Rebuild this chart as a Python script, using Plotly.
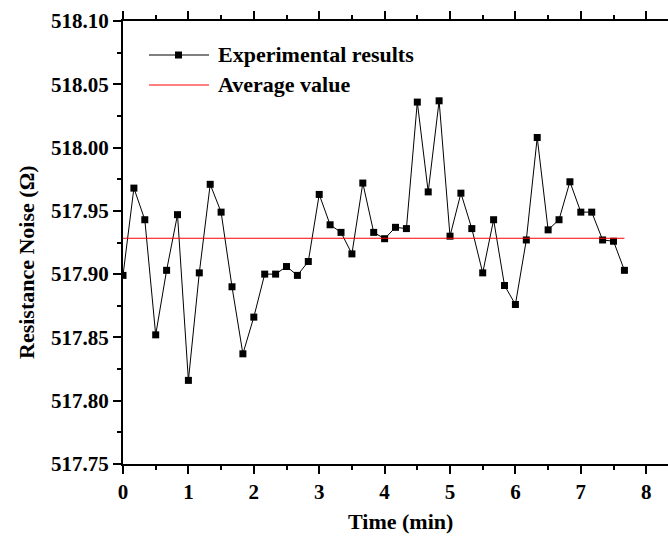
import plotly.graph_objects as go

# Sampling times (seconds) and measured resistance (ohm)
time_s = [0, 10, 20, 30, 40, 50, 60, 70, 80, 90,
          100, 110, 120, 130, 140, 150, 160, 170, 180, 190,
          200, 210, 220, 230, 240, 250, 260, 270, 280, 290,
          300, 310, 320, 330, 340, 350, 360, 370, 380, 390,
          400, 410, 420, 430, 440, 450, 460]
resistance = [517.899, 517.968, 517.943, 517.852, 517.903, 517.947, 517.816, 517.901, 517.971, 517.949,
              517.890, 517.837, 517.866, 517.900, 517.900, 517.906, 517.899, 517.910, 517.963, 517.939,
              517.933, 517.916, 517.972, 517.933, 517.928, 517.937, 517.936, 518.036, 517.965, 518.037,
              517.930, 517.964, 517.936, 517.901, 517.943, 517.891, 517.876, 517.927, 518.008, 517.935,
              517.943, 517.973, 517.949, 517.949, 517.927, 517.926, 517.903]

legend_names = ["Experimental results", "Average value"]
x_title = "Time (min)"
y_title = "Resistance Noise (\u03a9)"

time_min = [t / 60 for t in time_s]
average = sum(resistance) / len(resistance)

FONT = "Liberation Serif, Times New Roman, serif"
W, H = 668, 539
ML, MT, MB, MR = 123, 21, 75, 0
PW, PH = W - ML - MR, H - MT - MB

fig = go.Figure()
fig.add_trace(go.Scatter(
    x=time_min, y=resistance, mode="lines+markers",
    line=dict(color="black", width=1),
    marker=dict(symbol="square", size=7, color="black"),
    showlegend=False,
))
fig.add_trace(go.Scatter(
    x=[time_min[0], time_min[-1]], y=[average, average], mode="lines",
    line=dict(color="#ff0000", width=1),
    showlegend=False,
))

axis_common = dict(
    showline=True, linecolor="black", linewidth=2,
    ticks="outside", ticklen=8, tickwidth=2, tickcolor="black",
    showgrid=False, zeroline=False,
    tickfont=dict(family=FONT, size=21, color="black", weight="bold"),
)

fig.update_xaxes(
    range=[0, 8.333], dtick=1, tick0=0, mirror="ticks",
    minor=dict(ticks="outside", ticklen=4, tickwidth=2, dtick=0.5, tickcolor="black", showgrid=False),
    **axis_common,
)
fig.update_yaxes(
    range=[517.7499, 518.1001], dtick=0.05, tick0=517.75, tickformat=".2f",
    minor=dict(ticks="outside", ticklen=4, tickwidth=2, dtick=0.025, tickcolor="black", showgrid=False),
    **axis_common,
)


def px_x(p):
    return (p - ML) / PW


def px_y(p):
    return (H - MB - p) / PH


title_font = dict(family=FONT, size=22, color="black", weight="bold")
legend_font = dict(family=FONT, size=22, color="black", weight="bold")

annotations = [
    dict(text=x_title, x=px_x(400), y=px_y(521), xref="paper", yref="paper",
         showarrow=False, font=title_font, xanchor="center", yanchor="middle"),
    dict(text=y_title, x=px_x(26), y=px_y(262), xref="paper", yref="paper",
         showarrow=False, font=title_font, textangle=-90, xanchor="center", yanchor="middle"),
]
shapes = []

# Hand-drawn legend block
leg_rows = [55, 85]
for i, name in enumerate(legend_names):
    yy = px_y(leg_rows[i])
    color = "black" if i == 0 else "#ff0000"
    shapes.append(dict(type="line", xref="paper", yref="paper",
                       x0=px_x(149), x1=px_x(209), y0=yy, y1=yy,
                       line=dict(color="#555555" if i == 0 else color, width=1.5 if i == 0 else 1)))
    if i == 0:
        shapes.append(dict(type="rect", xref="paper", yref="paper",
                           x0=px_x(175), x1=px_x(182), y0=px_y(58.5), y1=px_y(51.5),
                           fillcolor="black", line=dict(width=0)))
    annotations.append(dict(text=name, x=px_x(216), y=yy, xref="paper", yref="paper",
                            showarrow=False, font=legend_font, xanchor="left", yanchor="middle"))

fig.update_layout(
    width=W, height=H,
    margin=dict(l=ML, r=MR, t=MT, b=MB),
    paper_bgcolor="white", plot_bgcolor="white",
    showlegend=False,
    annotations=annotations, shapes=shapes,
)

fig.write_html("out.html")
